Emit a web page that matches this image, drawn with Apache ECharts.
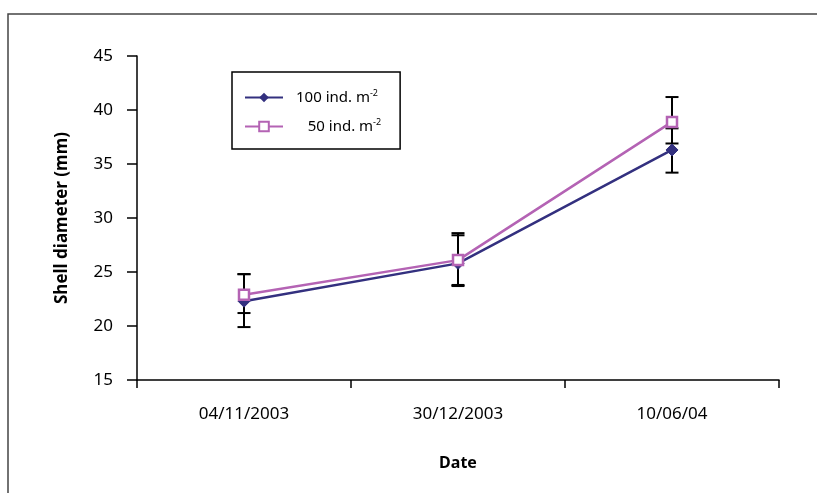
<!DOCTYPE html>
<html>
<head>
<meta charset="UTF-8">
<title>Shell diameter</title>
<script src="https://cdn.jsdelivr.net/npm/echarts@6/dist/echarts.min.js"></script>
<style>
  html, body { margin: 0; padding: 0; background: #fff; }
  #chart { width: 817px; height: 493px; }
</style>
</head>
<body>
<div id="chart"></div>
<script>
// values
var dates = ['04/11/2003', '30/12/2003', '10/06/04'];
var yTicks = [15, 20, 25, 30, 35, 40, 45];

var dens100 = [22.3, 25.8, 36.3];
var dens100Low = [19.9, 23.7, 34.2];
var dens100High = [24.8, 28.6, 38.3];

var dens50 = [22.9, 26.1, 38.9];
var dens50Low = [21.2, 23.8, 36.9];
var dens50High = [24.8, 28.4, 41.2];

var navy = '#33307f';
var pink = '#b463b4';

function errorItems(low, high) {
  var out = [];
  for (var i = 0; i < low.length; i++) {
    out.push([i, low[i], high[i]]);
  }
  return out;
}

function renderError(params, api) {
  var x = api.value(0);
  var lo = api.coord([x, api.value(1)]);
  var hi = api.coord([x, api.value(2)]);
  var hw = 6.5;
  var st = { stroke: '#000', lineWidth: 2 };
  return {
    type: 'group',
    children: [
      { type: 'line', shape: { x1: lo[0], y1: lo[1], x2: hi[0], y2: hi[1] }, style: st },
      { type: 'line', shape: { x1: lo[0] - hw, y1: lo[1], x2: lo[0] + hw, y2: lo[1] }, style: st },
      { type: 'line', shape: { x1: hi[0] - hw, y1: hi[1], x2: hi[0] + hw, y2: hi[1] }, style: st }
    ]
  };
}

var legendRich = {
  t: { fontSize: 15, color: '#000', fontFamily: 'Noto Sans', padding: [0, 0, 0, 8] },
  sup: { fontSize: 9, color: '#000', fontFamily: 'Noto Sans', verticalAlign: 'top', padding: [0, 0, 8, 0] }
};

var chart = echarts.init(document.getElementById('chart'));
chart.setOption({
  animation: false,
  backgroundColor: '#fff',
  textStyle: { fontFamily: 'Noto Sans' },
  graphic: [{
    type: 'rect',
    shape: { x: 8, y: 14, width: 900, height: 600 },
    style: { fill: 'none', stroke: '#444', lineWidth: 1.5 },
    silent: true,
    z: -10
  }],
  grid: { left: 137, right: 38, top: 56, bottom: 113 },
  legend: {
    left: 232,
    top: 72,
    orient: 'vertical',
    itemWidth: 38,
    itemHeight: 12,
    itemGap: 13,
    padding: [17, 19, 15, 12],
    borderColor: '#000',
    borderWidth: 1.5,
    data: ['100 ind. m-2', '50 ind. m-2'],
    formatter: function (name) {
      if (name === '100 ind. m-2') return '{t|100 ind. m}{sup|-2}';
      return '{t|   50 ind. m}{sup|-2}';
    },
    textStyle: { rich: legendRich }
  },
  xAxis: {
    type: 'category',
    data: dates,
    boundaryGap: true,
    name: 'Date',
    nameLocation: 'middle',
    nameGap: 75,
    nameTextStyle: { fontSize: 16, fontWeight: 'bold', color: '#000' },
    axisLine: { lineStyle: { color: '#000', width: 1.5 } },
    axisTick: { show: true, length: 8, interval: 0, lineStyle: { color: '#000', width: 1.5 } },
    axisLabel: { fontSize: 17, color: '#000', margin: 26 },
    splitLine: { show: false }
  },
  yAxis: {
    type: 'value',
    min: yTicks[0],
    max: yTicks[yTicks.length - 1],
    interval: 5,
    name: 'Shell diameter (mm)',
    nameLocation: 'middle',
    nameGap: 66,
    nameTextStyle: { fontSize: 17, fontWeight: 'bold', color: '#000' },
    axisLine: { show: true, lineStyle: { color: '#000', width: 1.5 } },
    axisTick: { show: true, length: 10, lineStyle: { color: '#000', width: 1.5 } },
    axisLabel: { fontSize: 17, color: '#000', margin: 24 },
    splitLine: { show: false }
  },
  series: [
    {
      type: 'custom',
      renderItem: renderError,
      data: errorItems(dens100Low, dens100High),
      encode: { x: 0, y: [1, 2] },
      z: 1,
      silent: true
    },
    {
      type: 'custom',
      renderItem: renderError,
      data: errorItems(dens50Low, dens50High),
      encode: { x: 0, y: [1, 2] },
      z: 1,
      silent: true
    },
    {
      name: '100 ind. m-2',
      type: 'line',
      data: dens100,
      symbol: 'diamond',
      symbolSize: 12,
      lineStyle: { color: navy, width: 2.5 },
      itemStyle: { color: navy, borderColor: navy },
      z: 3
    },
    {
      name: '50 ind. m-2',
      type: 'line',
      data: dens50,
      symbol: 'rect',
      symbolSize: 10,
      lineStyle: { color: pink, width: 2.5 },
      itemStyle: { color: '#fff', borderColor: pink, borderWidth: 2.5 },
      z: 4
    }
  ]
});
</script>
</body>
</html>
